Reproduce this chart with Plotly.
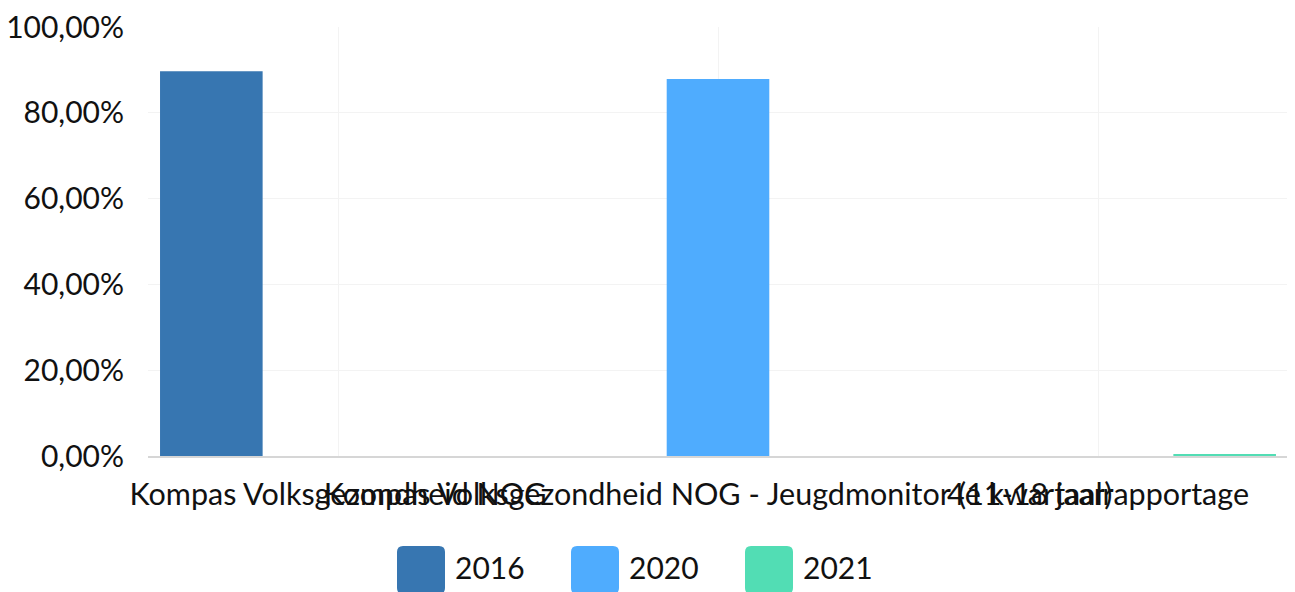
import plotly.graph_objects as go

categories = [
    "Kompas Volksgezondheid NOG",
    "Kompas Volksgezondheid NOG - Jeugdmonitor (11-18 jaar)",
    "4e kwartaalrapportage",
]
series_names = ["2016", "2020", "2021"]
values_2016 = [89.7, None, None]
values_2020 = [None, 87.9, None]
values_2021 = [None, None, 0.3]
colors = ["#3776b1", "#4facfe", "#52ddb4"]
y_ticks = [0, 20, 40, 60, 80, 100]
y_tick_labels = ["0,00%", "20,00%", "40,00%", "60,00%", "80,00%", "100,00%"]

# page body has an 8px margin, so the figure is placed at (8, 8)
OFF = 8
W, H = 1295 - OFF, 592 - OFF
L, R, T, B = 148 - OFF, 7, 27 - OFF, 136
PW, PH = W - L - R, H - T - B

def px_x(p):
    return (p - OFF - L) / PW

def px_y(p):
    return (H - B - (p - OFF)) / PH

fig = go.Figure()
for name, vals, col in zip(series_names, [values_2016, values_2020, values_2021], colors):
    fig.add_trace(go.Bar(x=categories, y=vals, name=name, marker=dict(color=col, line=dict(width=0)),
                         showlegend=False))

font_family = "Lato, 'Open Sans', sans-serif"
fig.update_layout(
    width=W, height=H,
    margin=dict(l=L, r=R, t=T, b=B, autoexpand=False),
    paper_bgcolor="white", plot_bgcolor="white",
    barmode="group", bargap=0, bargroupgap=0.19,
    font=dict(family=font_family, size=30, color="#111111"),
    xaxis=dict(showgrid=True, gridcolor="#f3f3f3", gridwidth=1, showline=True,
               linecolor="#d6d6d6", linewidth=2, ticks="", tickangle=0, automargin=False,
               ticklabelstandoff=10, layer="below traces", ticklabeloverflow="allow",
               tickfont=dict(size=30.5, color="#111111")),
    yaxis=dict(range=[0, 100], tickvals=y_ticks, ticktext=y_tick_labels,
               showgrid=True, gridcolor="#f3f3f3", gridwidth=1, zeroline=False,
               automargin=False, ticklabelstandoff=23, layer="below traces",
               ticklabeloverflow="allow",
               ticks="", ticklen=0, tickfont=dict(size=30, color="#111111")),
)

# manual legend (rounded squares + labels), positions in page pixels
leg_x = [397, 571, 745]
for name, col, x0 in zip(series_names, colors, leg_x):
    x1, y0, y1 = x0 + 48, 546, 594
    r = 6
    pts = [
        (x0 + r, y0), (x1 - r, y0), (x1, y0), (x1, y0 + r), (x1, y1 - r), (x1, y1),
        (x1 - r, y1), (x0 + r, y1), (x0, y1), (x0, y1 - r), (x0, y0 + r), (x0, y0), (x0 + r, y0)
    ]
    p = [(px_x(a), px_y(b)) for a, b in pts]
    path = (f"M {p[0][0]},{p[0][1]} L {p[1][0]},{p[1][1]} Q {p[2][0]},{p[2][1]} {p[3][0]},{p[3][1]} "
            f"L {p[4][0]},{p[4][1]} Q {p[5][0]},{p[5][1]} {p[6][0]},{p[6][1]} L {p[7][0]},{p[7][1]} "
            f"Q {p[8][0]},{p[8][1]} {p[9][0]},{p[9][1]} L {p[10][0]},{p[10][1]} "
            f"Q {p[11][0]},{p[11][1]} {p[12][0]},{p[12][1]} Z")
    fig.add_shape(type="path", path=path, xref="paper", yref="paper",
                  fillcolor=col, line=dict(width=0), layer="above")
    fig.add_annotation(text=name, x=px_x(x0 + 56), y=px_y(567), xref="paper", yref="paper",
                       xanchor="left", yanchor="middle", showarrow=False,
                       font=dict(size=30, color="#111111", family=font_family))

fig.write_html("out.html")
